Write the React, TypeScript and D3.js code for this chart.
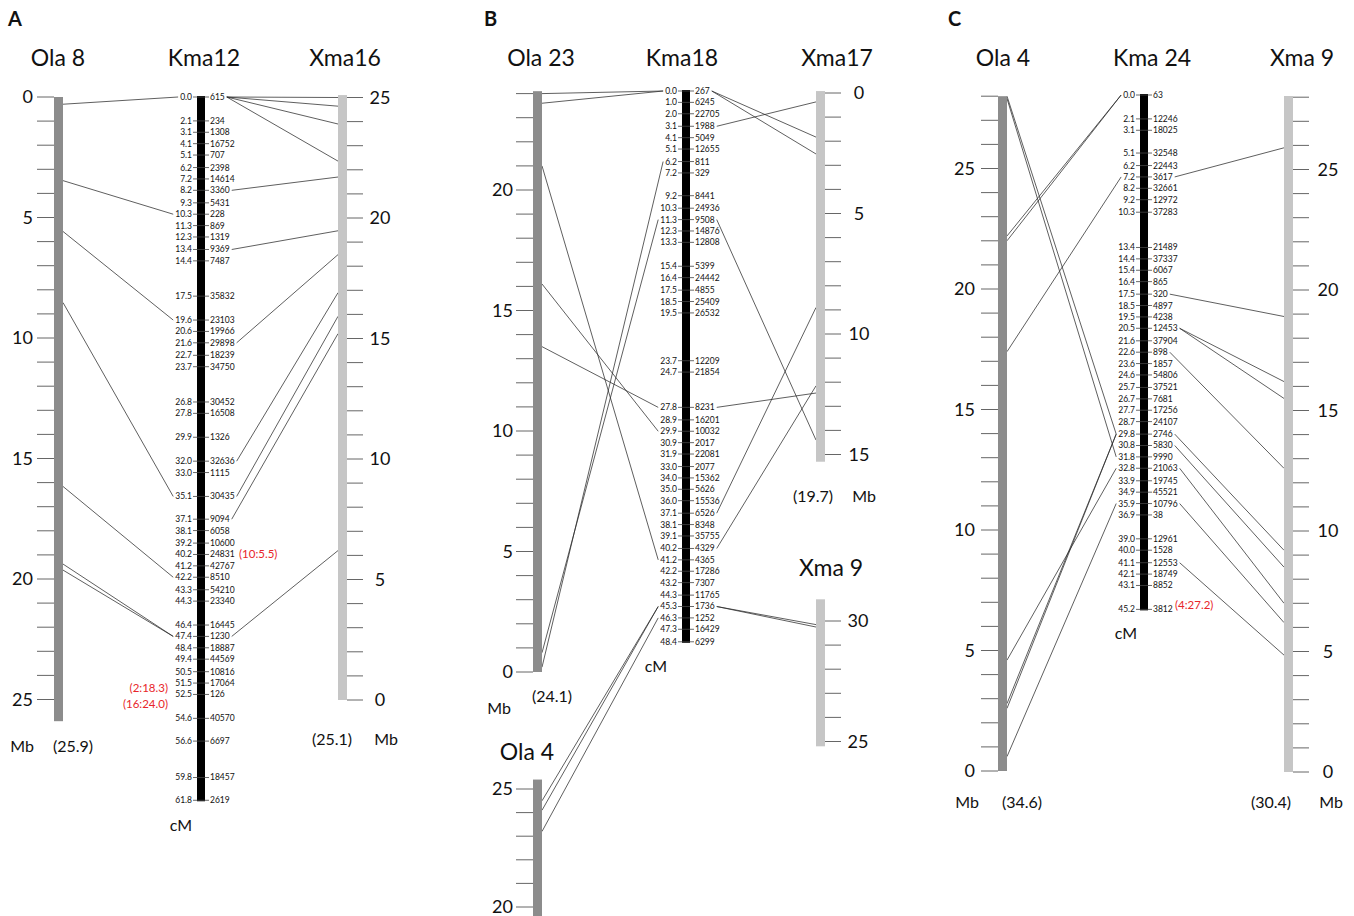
import React from 'react';
import * as d3 from 'd3';

const FONT = 'Lato, "Open Sans", sans-serif';

// Kma linkage groups: cM positions and marker ids
const kma12Cm = [0.0, 2.1, 3.1, 4.1, 5.1, 6.2, 7.2, 8.2, 9.3, 10.3, 11.3, 12.3, 13.4, 14.4, 17.5, 19.6, 20.6, 21.6, 22.7, 23.7, 26.8, 27.8, 29.9, 32.0, 33.0, 35.1, 37.1, 38.1, 39.2, 40.2, 41.2, 42.2, 43.3, 44.3, 46.4, 47.4, 48.4, 49.4, 50.5, 51.5, 52.5, 54.6, 56.6, 59.8, 61.8];
const kma12Markers = ['615', '234', '1308', '16752', '707', '2398', '14614', '3360', '5431', '228', '869', '1319', '9369', '7487', '35832', '23103', '19966', '29898', '18239', '34750', '30452', '16508', '1326', '32636', '1115', '30435', '9094', '6058', '10600', '24831', '42767', '8510', '54210', '23340', '16445', '1230', '18887', '44569', '10816', '17064', '126', '40570', '6697', '18457', '2619'];

const kma18Cm = [0.0, 1.0, 2.0, 3.1, 4.1, 5.1, 6.2, 7.2, 9.2, 10.3, 11.3, 12.3, 13.3, 15.4, 16.4, 17.5, 18.5, 19.5, 23.7, 24.7, 27.8, 28.9, 29.9, 30.9, 31.9, 33.0, 34.0, 35.0, 36.0, 37.1, 38.1, 39.1, 40.2, 41.2, 42.2, 43.2, 44.3, 45.3, 46.3, 47.3, 48.4];
const kma18Markers = ['267', '6245', '22705', '1988', '5049', '12655', '811', '329', '8441', '24936', '9508', '14876', '12808', '5399', '24442', '4855', '25409', '26532', '12209', '21854', '8231', '16201', '10032', '2017', '22081', '2077', '15362', '5626', '15536', '6526', '8348', '35755', '4329', '4365', '17286', '7307', '11765', '1736', '1252', '16429', '6299'];

const kma24Cm = [0.0, 2.1, 3.1, 5.1, 6.2, 7.2, 8.2, 9.2, 10.3, 13.4, 14.4, 15.4, 16.4, 17.5, 18.5, 19.5, 20.5, 21.6, 22.6, 23.6, 24.6, 25.7, 26.7, 27.7, 28.7, 29.8, 30.8, 31.8, 32.8, 33.9, 34.9, 35.9, 36.9, 39.0, 40.0, 41.1, 42.1, 43.1, 45.2];
const kma24Markers = ['63', '12246', '18025', '32548', '22443', '3617', '32661', '12972', '37283', '21489', '37337', '6067', '865', '320', '4897', '4238', '12453', '37904', '898', '1857', '54806', '37521', '7681', '17256', '24107', '2746', '5830', '9990', '21063', '19745', '45521', '10796', '38', '12961', '1528', '12553', '18749', '8852', '3812'];

// links: [Mb on medaka chromosome, cM on Kma]
const linksOla8 = [[0.3, 0.0], [3.47, 10.3], [5.58, 19.6], [8.53, 35.1], [16.16, 42.2], [19.38, 47.4], [19.63, 47.4]];
const linksOla23 = [[24.0, 0.0], [23.6, 0.0], [21.0, 41.2], [16.1, 29.9], [13.5, 27.8], [0.2, 6.2], [0.8, 11.3]];
const linksOla4B = [[24.5, 45.3], [24.1, 45.3], [23.2, 46.3]];
const linksOla4C = [[28.0, 29.8], [27.9, 31.8], [22.2, 0.0], [22.0, 0.0], [17.4, 7.2], [4.6, 32.8], [2.8, 29.8], [2.6, 29.8], [0.6, 35.9]];
// links: [cM on Kma, Mb on Xma]
const linksXma16 = [[0.0, 25.0], [0.0, 24.64], [0.0, 23.9], [0.0, 22.36], [8.2, 21.7], [13.4, 19.47], [21.6, 18.48], [32.0, 16.9], [35.1, 15.92], [37.1, 15.2], [47.4, 6.2]];
const linksXma17 = [[0.0, 1.83], [0.0, 2.53], [3.1, 0.37], [11.3, 14.4], [27.8, 12.45], [37.1, 8.9], [40.2, 12.15]];
const linksXma9B = [[45.3, 29.85], [45.3, 29.75]];
const linksXma9C = [[7.2, 25.9], [17.5, 18.9], [20.5, 16.2], [20.5, 15.5], [22.6, 12.6], [29.8, 9.2], [30.8, 8.5], [32.8, 7.0], [35.9, 6.2], [41.1, 4.85]];

const OLA_FILL = '#8c8c8c';
const XMA_FILL = '#c6c6c6';
const LINK = '#2a2a2a';
const RED = '#e8262a';
const LBL = 8.5;

let ctx: CanvasRenderingContext2D | null = null;
function textW(s: string, size: number) {
  if (!ctx) ctx = document.createElement('canvas').getContext('2d');
  if (!ctx) return s.length * size * 0.55;
  ctx.font = `${size}px Lato`;
  return ctx.measureText(s).width;
}

const cmScale = (top: number) => d3.scaleLinear().domain([0, 1]).range([top, top + 11.38]);
const mbScale = (mb0: number, y0: number, dir: number, px = 24.1) => d3.scaleLinear().domain([mb0, mb0 + 1]).range([y0, y0 + px * dir]);

function MbChrom({ x, fill, y, from, to, ticks, labels, side, labelX, anchor }: any) {
  const w = 9;
  return (
    <g>
      <rect x={x} y={Math.min(y(from), y(to))} width={w} height={Math.abs(y(to) - y(from))} fill={fill} />
      {ticks.map((t: number) => (
        <line key={t} x1={side === 'left' ? x - 17 : x + w} x2={side === 'left' ? x : x + w + 16}
          y1={y(t)} y2={y(t)} stroke="#555" strokeWidth={0.9} />
      ))}
      {labels.map((t: number) => (
        <text key={t} x={labelX} y={y(t)} dy="0.36em" textAnchor={anchor} fontSize={18} fontFamily={FONT} fill="#111">{t}</text>
      ))}
    </g>
  );
}

function KmaChrom({ x, y, cm, markers }: any) {
  const w = 8;
  return (
    <g>
      <rect x={x} y={y(0) - 1} width={w} height={y(cm[cm.length - 1]) - y(0) + 2} fill="#000" />
      {cm.map((c: number, i: number) => (
        <g key={i}>
          <line x1={x - 4} x2={x + w + 4} y1={y(c)} y2={y(c)} stroke="#444" strokeWidth={0.8} />
          <text x={x - 5} y={y(c)} dy="0.35em" textAnchor="end" fontSize={LBL} fontFamily={FONT} fill="#111">{c.toFixed(1)}</text>
          <text x={x + w + 5} y={y(c)} dy="0.35em" fontSize={LBL} fontFamily={FONT} fill="#111">{markers[i]}</text>
        </g>
      ))}
    </g>
  );
}

function LeftLinks({ links, olaX, ola, kmaX, kma }: any) {
  return (
    <g>
      {links.map(([mb, c]: number[], i: number) => (
        <line key={i} x1={olaX + 9} y1={ola(mb)} x2={kmaX - 7 - textW(c.toFixed(1), LBL)} y2={kma(c)}
          stroke={LINK} strokeWidth={0.75} />
      ))}
    </g>
  );
}

function RightLinks({ links, kmaX, kma, cm, markers, xmaX, xma }: any) {
  return (
    <g>
      {links.map(([c, mb]: number[], i: number) => {
        const idx = cm.findIndex((v: number) => Math.abs(v - c) < 0.01);
        return (
          <line key={i} x1={kmaX + 8 + 7 + textW(markers[idx], LBL)} y1={kma(c)} x2={xmaX} y2={xma(mb)}
            stroke={LINK} strokeWidth={0.75} />
        );
      })}
    </g>
  );
}

function T({ x, y, children, size = 16, anchor = 'middle', fill = '#111', weight = 'normal' }: any) {
  return <text x={x} y={y} fontSize={size} textAnchor={anchor} fill={fill} fontWeight={weight} fontFamily={FONT}>{children}</text>;
}

export default function App() {
  // Panel A
  const ola8 = mbScale(0, 97, 1);
  const k12 = cmScale(97);
  const xma16 = mbScale(0, 700, -1);
  // Panel B
  const ola23 = mbScale(0, 672, -1);
  const ola4b = mbScale(25, 789, -1, 23.6);
  const k18 = cmScale(91);
  const xma17 = mbScale(0, 93, 1);
  const xma9b = mbScale(30, 621, -1);
  // Panel C
  const ola4c = mbScale(0, 771, -1);
  const k24 = cmScale(95);
  const xma9c = mbScale(0, 772, -1);

  const five = (a: number, b: number) => d3.range(a, b + 1, 5);

  return (
    <svg width={1354} height={916} style={{ position: 'absolute', left: 0, top: 0, background: '#fff' }}>
      {/* Panel A */}
      <T x={8} y={26} size={20} anchor="start" weight="bold">A</T>
      <T x={58} y={66} size={23}>Ola 8</T>
      <T x={204} y={66} size={23}>Kma12</T>
      <T x={345} y={66} size={23}>Xma16</T>
      <LeftLinks links={linksOla8} olaX={54} ola={ola8} kmaX={197} kma={k12} />
      <RightLinks links={linksXma16} kmaX={197} kma={k12} cm={kma12Cm} markers={kma12Markers} xmaX={338} xma={xma16} />
      <MbChrom x={54} fill={OLA_FILL} y={ola8} from={0} to={25.9} ticks={d3.range(0, 26)} labels={five(0, 25)} side="left" labelX={33} anchor="end" />
      <KmaChrom x={197} y={k12} cm={kma12Cm} markers={kma12Markers} />
      <MbChrom x={338} fill={XMA_FILL} y={xma16} from={0} to={25.1} ticks={d3.range(0, 26)} labels={five(0, 25)} side="right" labelX={380} anchor="middle" />
      <T x={22} y={752}>Mb</T>
      <T x={73} y={752}>(25.9)</T>
      <T x={181} y={831}>cM</T>
      <T x={332} y={745}>(25.1)</T>
      <T x={386} y={745}>Mb</T>
      <T x={168} y={692} size={11.5} anchor="end" fill={RED}>(2:18.3)</T>
      <T x={168} y={708} size={11.5} anchor="end" fill={RED}>(16:24.0)</T>
      <T x={239} y={558} size={11.5} anchor="start" fill={RED}>(10:5.5)</T>

      {/* Panel B */}
      <T x={484} y={26} size={20} anchor="start" weight="bold">B</T>
      <T x={541} y={66} size={23}>Ola 23</T>
      <T x={682} y={66} size={23}>Kma18</T>
      <T x={837} y={66} size={23}>Xma17</T>
      <T x={831} y={576} size={23}>Xma 9</T>
      <T x={527} y={760} size={23}>Ola 4</T>
      <LeftLinks links={linksOla23} olaX={533} ola={ola23} kmaX={682} kma={k18} />
      <LeftLinks links={linksOla4B} olaX={533} ola={ola4b} kmaX={682} kma={k18} />
      <RightLinks links={linksXma17} kmaX={682} kma={k18} cm={kma18Cm} markers={kma18Markers} xmaX={816} xma={xma17} />
      <RightLinks links={linksXma9B} kmaX={682} kma={k18} cm={kma18Cm} markers={kma18Markers} xmaX={816} xma={xma9b} />
      <MbChrom x={533} fill={OLA_FILL} y={ola23} from={0} to={24.1} ticks={d3.range(0, 25)} labels={five(0, 20)} side="left" labelX={513} anchor="end" />
      <MbChrom x={533} fill={OLA_FILL} y={ola4b} from={19.6} to={25.4} ticks={d3.range(20, 26)} labels={[20, 25]} side="left" labelX={513} anchor="end" />
      <KmaChrom x={682} y={k18} cm={kma18Cm} markers={kma18Markers} />
      <MbChrom x={816} fill={XMA_FILL} y={xma17} from={-0.08} to={15.3} ticks={d3.range(0, 16)} labels={five(0, 15)} side="right" labelX={859} anchor="middle" />
      <MbChrom x={816} fill={XMA_FILL} y={xma9b} from={24.8} to={30.9} ticks={d3.range(25, 31)} labels={[25, 30]} side="right" labelX={858} anchor="middle" />
      <T x={499} y={714}>Mb</T>
      <T x={552} y={702}>(24.1)</T>
      <T x={656} y={672}>cM</T>
      <T x={813} y={502}>(19.7)</T>
      <T x={864} y={502}>Mb</T>

      {/* Panel C */}
      <T x={948} y={26} size={20} anchor="start" weight="bold">C</T>
      <T x={1003} y={66} size={23}>Ola 4</T>
      <T x={1152} y={66} size={23}>Kma 24</T>
      <T x={1302} y={66} size={23}>Xma 9</T>
      <LeftLinks links={linksOla4C} olaX={998} ola={ola4c} kmaX={1140} kma={k24} />
      <RightLinks links={linksXma9C} kmaX={1140} kma={k24} cm={kma24Cm} markers={kma24Markers} xmaX={1284} xma={xma9c} />
      <MbChrom x={998} fill={OLA_FILL} y={ola4c} from={0} to={28.0} ticks={d3.range(0, 29)} labels={five(0, 25)} side="left" labelX={975} anchor="end" />
      <KmaChrom x={1140} y={k24} cm={kma24Cm} markers={kma24Markers} />
      <MbChrom x={1284} fill={XMA_FILL} y={xma9c} from={0} to={28.05} ticks={d3.range(0, 29)} labels={five(0, 25)} side="right" labelX={1328} anchor="middle" />
      <T x={967} y={808}>Mb</T>
      <T x={1022} y={808}>(34.6)</T>
      <T x={1126} y={639}>cM</T>
      <T x={1175} y={609} size={11.5} anchor="start" fill={RED}>(4:27.2)</T>
      <T x={1271} y={808}>(30.4)</T>
      <T x={1331} y={808}>Mb</T>
    </svg>
  );
}
